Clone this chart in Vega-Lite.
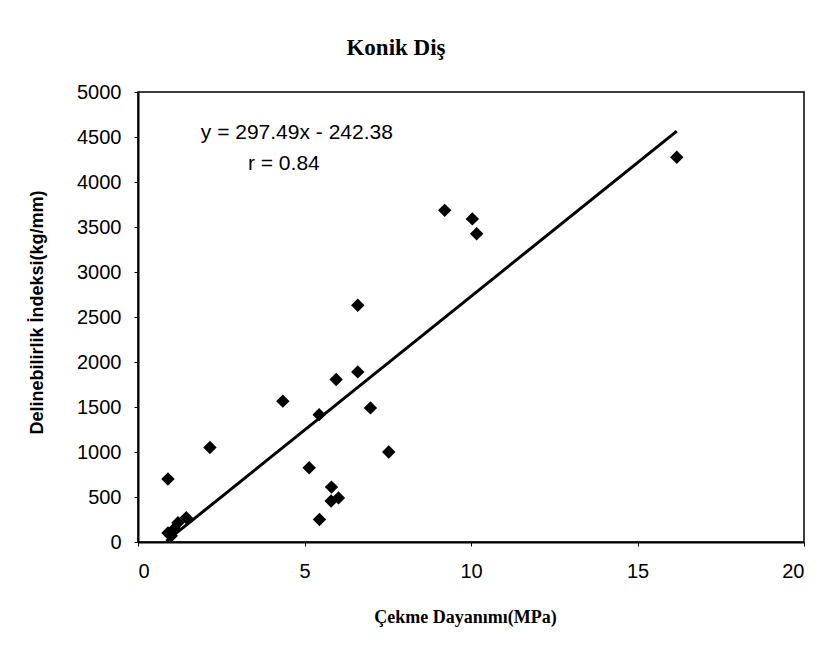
{
  "$schema": "https://vega.github.io/schema/vega-lite/v6.json",
  "width": 666,
  "height": 450,
  "autosize": {"type": "none"},
  "padding": {"left": 138, "top": 92, "right": 20, "bottom": 106},
  "background": "white",
  "title": {
    "text": "Konik Diş",
    "font": "Liberation Serif",
    "fontSize": 23,
    "fontWeight": "bold",
    "color": "black",
    "anchor": "middle",
    "dx": -75,
    "offset": 22
  },
  "config": {
    "view": {"stroke": "black", "strokeWidth": 1.5},
    "axis": {
      "grid": false,
      "domainColor": "black",
      "domainWidth": 2,
      "tickColor": "black",
      "tickSize": 4,
      "labelFont": "Liberation Sans",
      "labelFontSize": 20,
      "labelColor": "black",
      "format": "d"
    }
  },
  "datasets": {
    "points": [
      {"x": 0.9, "y": 700},
      {"x": 0.9, "y": 100},
      {"x": 1.0, "y": 70},
      {"x": 1.1, "y": 150},
      {"x": 1.2, "y": 215},
      {"x": 1.45, "y": 270},
      {"x": 2.16, "y": 1050},
      {"x": 4.35, "y": 1565},
      {"x": 5.44, "y": 1415},
      {"x": 5.14, "y": 825},
      {"x": 5.45, "y": 250},
      {"x": 5.81, "y": 610},
      {"x": 5.8, "y": 455},
      {"x": 6.02, "y": 490},
      {"x": 5.95, "y": 1805},
      {"x": 6.6, "y": 1890},
      {"x": 6.6, "y": 2630},
      {"x": 6.98, "y": 1490},
      {"x": 7.53, "y": 1000},
      {"x": 9.21, "y": 3685},
      {"x": 10.04, "y": 3590},
      {"x": 10.17, "y": 3425},
      {"x": 16.18, "y": 4275}
    ],
    "fit": [
      {"x": 0.85, "y": 10},
      {"x": 16.18, "y": 4565}
    ],
    "notes": [
      {"x": 4.77, "y": 4550, "label": "y = 297.49x - 242.38"},
      {"x": 4.38, "y": 4195, "label": "r = 0.84"}
    ]
  },
  "layer": [
    {
      "data": {"name": "fit"},
      "mark": {"type": "line", "color": "black", "strokeWidth": 3},
      "encoding": {
        "x": {
          "field": "x",
          "type": "quantitative",
          "scale": {"domain": [0, 20], "nice": false},
          "axis": {
            "values": [0, 5, 10, 15, 20],
            "title": "Çekme Dayanımı(MPa)",
            "titleFont": "Liberation Serif",
            "titleFontSize": 18,
            "titleFontWeight": "bold",
            "titleColor": "black",
            "titleX": 327,
            "titleY": 75,
            "titleAlign": "center",
            "titleBaseline": "middle",
            "labelPadding": 15
          }
        },
        "y": {
          "field": "y",
          "type": "quantitative",
          "scale": {"domain": [0, 5000], "nice": false},
          "axis": {
            "values": [0, 500, 1000, 1500, 2000, 2500, 3000, 3500, 4000, 4500, 5000],
            "title": "Delinebilirlik İndeksi(kg/mm)",
            "titleFont": "Liberation Sans",
            "titleFontSize": 18,
            "titleFontWeight": "bold",
            "titleColor": "black",
            "titleAngle": -90,
            "titleX": -101,
            "titleY": 220,
            "titleAlign": "center",
            "titleBaseline": "middle",
            "labelPadding": 13
          }
        }
      }
    },
    {
      "data": {"name": "points"},
      "mark": {"type": "point", "shape": "diamond", "filled": true, "color": "black", "size": 180, "opacity": 1},
      "encoding": {
        "x": {"field": "x", "type": "quantitative"},
        "y": {"field": "y", "type": "quantitative"}
      }
    },
    {
      "data": {"name": "notes"},
      "mark": {"type": "text", "font": "Liberation Sans", "fontSize": 21, "color": "black", "align": "center", "baseline": "middle"},
      "encoding": {
        "x": {"field": "x", "type": "quantitative"},
        "y": {"field": "y", "type": "quantitative"},
        "text": {"field": "label"}
      }
    }
  ]
}
